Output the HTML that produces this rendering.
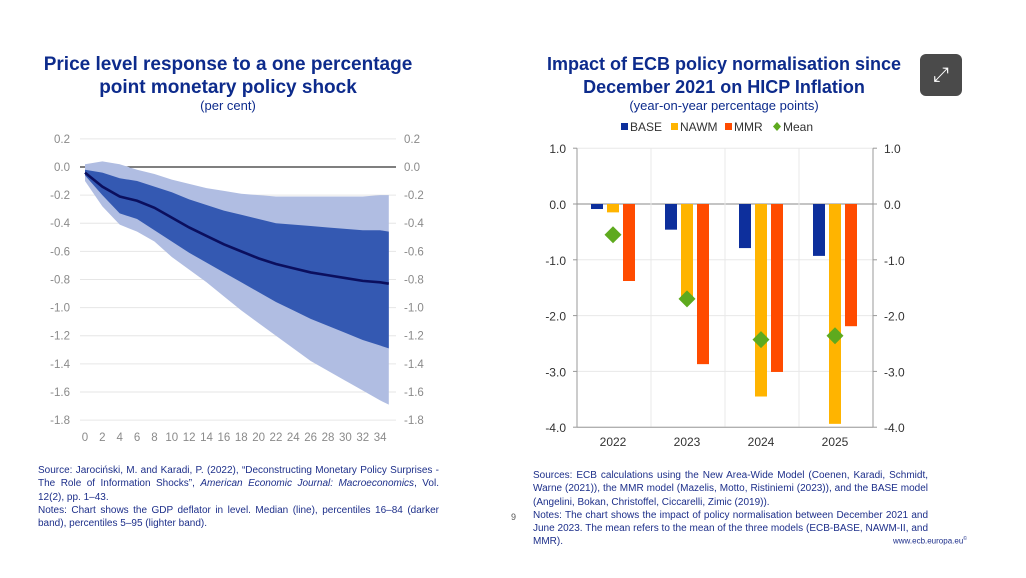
<!DOCTYPE html>
<html><head><meta charset="utf-8">
<style>
body{margin:0;width:1026px;height:578px;background:#fff;overflow:hidden;position:relative;font-family:"Liberation Sans",Arial,sans-serif}
.t{position:absolute;text-align:center;color:#0d2b8c;font-weight:bold;font-size:19px;line-height:23px;white-space:nowrap}
.s{position:absolute;text-align:center;color:#0d2b8c;font-size:13px}
.n{position:absolute;color:#1d2f8a;font-size:10px;line-height:13.3px;text-align:justify}
</style></head><body>
<div class="t" style="left:18px;top:53px;width:420px">Price level response to a one percentage<br>point monetary policy shock</div>
<div class="s" style="left:18px;top:98px;width:420px">(per cent)</div>
<div class="t" style="left:514px;top:53px;width:420px;font-size:18px">Impact of ECB policy normalisation since<br>December 2021 on HICP Inflation</div>
<div class="s" style="left:514px;top:98px;width:420px">(year-on-year percentage points)</div>
<div style="position:absolute;left:920px;top:54px;width:42px;height:42px;border-radius:6px;background:#4a4a4a;color:#fff;font-size:20px;line-height:42px;text-align:center">⤢</div>

<svg id="chart" width="1026" height="578" style="position:absolute;left:0;top:0" font-family="Liberation Sans, Arial, sans-serif"></svg>

<div class="n" style="left:38px;top:464px;width:401px">Source: Jarociński, M. and Karadi, P. (2022), “Deconstructing Monetary Policy Surprises - The Role of Information Shocks”, <i>American Economic Journal: Macroeconomics</i>, Vol. 12(2), pp. 1–43.<br>Notes: Chart shows the GDP deflator in level. Median (line), percentiles 16–84 (darker band), percentiles 5–95 (lighter band).</div>
<div class="n" style="left:511px;top:511px;font-size:9px;color:#555">9</div>
<div class="n" style="left:533px;top:469px;width:395px">Sources: ECB calculations using the New Area-Wide Model (Coenen, Karadi, Schmidt, Warne (2021)), the MMR model (Mazelis, Motto, Ristiniemi (2023)), and the BASE model (Angelini, Bokan, Christoffel, Ciccarelli, Zimic (2019)).<br>Notes: The chart shows the impact of policy normalisation between December 2021 and June 2023. The mean refers to the mean of the three models (ECB-BASE, NAWM-II, and MMR).</div>
<div class="n" style="left:893px;top:533px;font-size:8px">www.ecb.europa.eu<sup style="font-size:5px">©</sup></div>

<script>
// Left chart data
const horizons=[0,2,4,6,8,10,12,14,16,18,20,22,24,26,28,30,32,34,35];
const median=[-0.04,-0.14,-0.21,-0.24,-0.29,-0.36,-0.43,-0.49,-0.55,-0.60,-0.65,-0.69,-0.72,-0.75,-0.77,-0.79,-0.81,-0.82,-0.83];
const p16=[-0.02,-0.04,-0.08,-0.10,-0.14,-0.18,-0.23,-0.27,-0.31,-0.34,-0.37,-0.40,-0.41,-0.42,-0.43,-0.44,-0.45,-0.45,-0.46];
const p84=[-0.06,-0.20,-0.33,-0.37,-0.45,-0.53,-0.61,-0.68,-0.75,-0.82,-0.89,-0.96,-1.02,-1.08,-1.13,-1.18,-1.23,-1.27,-1.29];
const p5=[0.02,0.04,0.02,-0.02,-0.05,-0.09,-0.12,-0.15,-0.17,-0.19,-0.20,-0.21,-0.21,-0.21,-0.21,-0.21,-0.21,-0.20,-0.20];
const p95=[-0.10,-0.28,-0.41,-0.46,-0.53,-0.64,-0.73,-0.82,-0.92,-1.02,-1.11,-1.20,-1.29,-1.38,-1.45,-1.52,-1.59,-1.66,-1.69];
const leftTicks=["0.2","0.0","-0.2","-0.4","-0.6","-0.8","-1.0","-1.2","-1.4","-1.6","-1.8"];
const xTickLabels=["0","2","4","6","8","10","12","14","16","18","20","22","24","26","28","30","32","34"];
// Right chart data
const years=["2022","2023","2024","2025"];
const base=[-0.09,-0.46,-0.79,-0.93];
const nawm=[-0.15,-1.67,-3.45,-3.94];
const mmr=[-1.38,-2.87,-3.01,-2.19];
const mean=[-0.55,-1.70,-2.43,-2.36];
const rightTicks=["1.0","0.0","-1.0","-2.0","-3.0","-4.0"];

const svg=document.getElementById('chart');
const NS='http://www.w3.org/2000/svg';
function mk(tag,attrs,parent){const e=document.createElementNS(NS,tag);for(const k in attrs)e.setAttribute(k,attrs[k]);(parent||svg).appendChild(e);return e;}

// left axes
const lx=h=>85+h*8.68;
const ly=v=>167-v*140.6;
leftTicks.forEach(t=>{
  const v=parseFloat(t),y=ly(v);
  const g=mk('line',{x1:80,x2:396,y1:y,y2:y,stroke:v===0?'#333':'#e6e6e6','stroke-width':v===0?1.2:1});
  
  
  const a=mk('text',{x:70,y:y+4,'text-anchor':'end','font-size':11.5,fill:'#8a8a8a'});a.textContent=t;
  
  
  const b=mk('text',{x:404,y:y+4,'font-size':11.5,fill:'#8a8a8a'});b.textContent=t;
  
  
});
xTickLabels.forEach(t=>{
  const e=mk('text',{x:lx(+t),y:441,'text-anchor':'middle','font-size':11.5,fill:'#8a8a8a'});e.textContent=t;
  
  
});
function band(up,lo,fill,name){
  let d='M'+horizons.map((h,i)=>lx(h)+','+ly(up[i])).join('L');
  for(let i=horizons.length-1;i>=0;i--)d+='L'+lx(horizons[i])+','+ly(lo[i]);
  const p=mk('path',{d:d+'Z',fill:fill});
  
  
}
band(p5,p95,'#b0bde2','band-5-95');
band(p16,p84,'#3459b2','band-16-84');
const ml=mk('polyline',{points:horizons.map((h,i)=>lx(h)+','+ly(median[i])).join(' '),fill:'none',stroke:'#0b0f5e','stroke-width':2.6});



// right chart
const ry=v=>204-v*55.8;
const cx=i=>613+i*74;
const L=577,R=873;
rightTicks.forEach(t=>{
  const v=parseFloat(t),y=ry(v);
  const g=mk('line',{x1:L,x2:R,y1:y,y2:y,stroke:v===0?'#888':'#e8e8e8','stroke-width':1});
  
  
  mk('line',{x1:L-4,x2:L,y1:y,y2:y,stroke:'#999'});mk('line',{x1:R,x2:R+4,y1:y,y2:y,stroke:'#999'});
  const a=mk('text',{x:566,y:y+5,'text-anchor':'end','font-size':12,fill:'#333'});a.textContent=t;
  
  
  const b=mk('text',{x:884,y:y+5,'font-size':12,fill:'#333'});b.textContent=t;
  
  
});
for(let i=1;i<years.length;i++){mk('line',{x1:L+i*74,x2:L+i*74,y1:ry(1),y2:ry(-4),stroke:'#e8e8e8'});}
mk('line',{x1:L,x2:L,y1:ry(1),y2:ry(-4),stroke:'#999'});
mk('line',{x1:R,x2:R,y1:ry(1),y2:ry(-4),stroke:'#999'});
mk('line',{x1:L,x2:R,y1:ry(-4),y2:ry(-4),stroke:'#999'});
const series=[[base,'#0d2f9c',-16,'base'],[nawm,'#ffb400',0,'nawm'],[mmr,'#ff4b00',16,'mmr']];
years.forEach((yr,i)=>{
  const t=mk('text',{x:cx(i),y:446,'text-anchor':'middle','font-size':12,fill:'#333'});t.textContent=yr;
  
  
  series.forEach(s=>{
    const v=s[0][i];
    const r=mk('rect',{x:cx(i)+s[2]-6,y:ry(0),width:12,height:ry(v)-ry(0),fill:s[1]});
    
    
  });
  const x=cx(i),y=ry(mean[i]);
  const d=mk('polygon',{points:`${x},${y-8.5} ${x+8.5},${y} ${x},${y+8.5} ${x-8.5},${y}`,fill:'#5eaa1e'});
  
  
});
// legend
const leg=[['BASE','#0d2f9c','sq',631],['NAWM','#ffb400','sq',681],['MMR','#ff4b00','sq',735],['Mean','#5eaa1e','di',784]];
leg.forEach(l=>{
  if(l[2]==='sq')mk('rect',{x:l[3]-10,y:123,width:7,height:7,fill:l[1]});
  else mk('polygon',{points:`${l[3]-7},${122} ${l[3]-3},${126.5} ${l[3]-7},${131} ${l[3]-11},${126.5}`,fill:l[1]});
  const t=mk('text',{x:l[3]-1,y:131,'font-size':12,fill:'#333'});t.textContent=l[0];
  
  
});
</script>
</body></html>
